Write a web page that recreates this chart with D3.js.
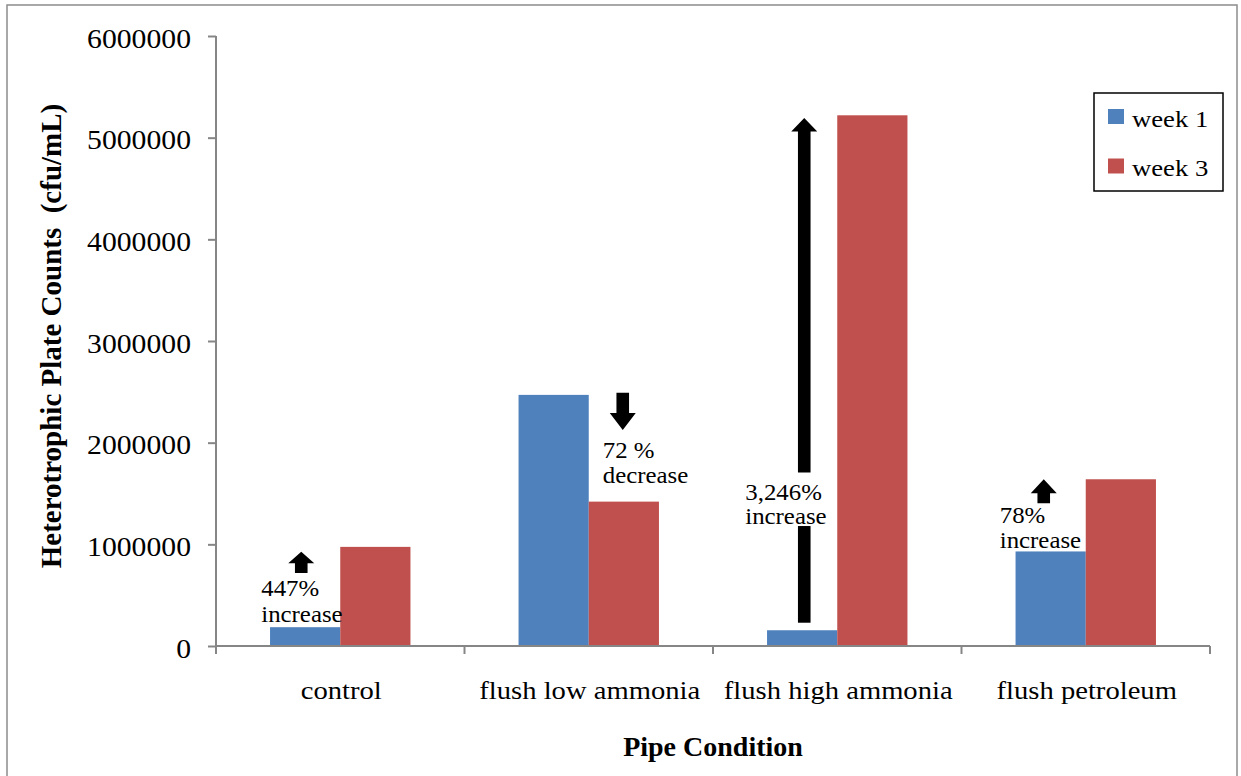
<!DOCTYPE html>
<html>
<head>
<meta charset="utf-8">
<script src="https://cdn.jsdelivr.net/npm/d3@7"></script>
<style>
  html, body { margin: 0; padding: 0; background: #ffffff; }
  svg { display: block; }
  text { font-family: "Liberation Serif", "Times New Roman", serif; fill: #000; }
</style>
</head>
<body>
<svg id="chart" width="1241" height="776"></svg>
<script>
// Pipe conditions and heterotrophic plate counts (cfu/mL)
const categories = ["control", "flush low ammonia", "flush high ammonia", "flush petroleum"];
const seriesNames = ["week 1", "week 3"];
const week1 = [185000, 2470000, 155000, 930000];
const week3 = [975000, 1420000, 5220000, 1640000];
const seriesColors = ["#4F81BD", "#C0504D"];
const yTicks = [0, 1000000, 2000000, 3000000, 4000000, 5000000, 6000000];

// Change annotations: arrow direction, tip/tail values, and label lines with baselines
const noteCategory = ["control", "flush low ammonia", "flush high ammonia", "flush petroleum"];
const noteDirection = ["up", "down", "up", "up"];
const noteArrowTip = [927500, 2125000, 5194000, 1640000];
const noteArrowTail = [718000, 2491000, 229000, 1404000];
const noteArrowGap = [null, null, [1180000, 1707000], null];
const noteLines = [["447%", "increase"], ["72 %", "decrease"], ["3,246%", "increase"], ["78%", "increase"]];
const noteBaseline1 = [492000, 1849000, 1436000, 1213000];
const noteBaseline2 = [236000, 1603000, 1200000, 961000];

const svg = d3.select("#chart");
const axisColor = "#868686";

// outer frame
svg.append("rect")
  .attr("x", 7).attr("y", 5).attr("width", 1230).attr("height", 790)
  .attr("fill", "none").attr("stroke", "#8c8c8c").attr("stroke-width", 1.5);

const plot = { left: 216, right: 1210, top: 36, bottom: 646 };

const x0 = d3.scaleBand().domain(categories).range([plot.left, plot.right]).padding(0);
const x1 = d3.scaleBand().domain(seriesNames)
  .range([x0.bandwidth() * 0.2175, x0.bandwidth() * 0.7825]).padding(0);
const y = d3.scaleLinear().domain([0, 6000000]).range([plot.bottom, plot.top]);

const rows = categories.map((c, i) => ({ cat: c, vals: [week1[i], week3[i]] }));

// bars
const groups = svg.append("g").selectAll("g").data(rows).join("g")
  .attr("transform", d => `translate(${x0(d.cat)},0)`);
groups.selectAll("rect")
  .data(d => d.vals.map((v, j) => ({ name: seriesNames[j], v, j })))
  .join("rect")
  .attr("x", d => x1(d.name))
  .attr("y", d => y(d.v))
  .attr("width", x1.bandwidth())
  .attr("height", d => y(0) - y(d.v))
  .attr("fill", d => seriesColors[d.j]);

// y axis
const yAxis = svg.append("g")
  .attr("transform", `translate(${plot.left},0)`)
  .call(d3.axisLeft(y).tickValues(yTicks).tickFormat(d3.format("d")).tickSize(8).tickPadding(17));
yAxis.select(".domain").attr("stroke", axisColor).attr("stroke-width", 2)
  .attr("d", `M0,${plot.top}V${plot.bottom + 7}`);
yAxis.selectAll(".tick line").attr("stroke", axisColor).attr("stroke-width", 2);
yAxis.selectAll(".tick text")
  .attr("class", "reg").attr("font-size", 27).attr("fill", "#000")
  .attr("font-family", "Liberation Serif").attr("dy", "0.37em").attr("y", 1);

// x axis line with boundary ticks
const xAxisG = svg.append("g");
xAxisG.append("line")
  .attr("x1", plot.left).attr("x2", plot.right)
  .attr("y1", plot.bottom).attr("y2", plot.bottom)
  .attr("stroke", axisColor).attr("stroke-width", 2);
const boundaries = categories.map(c => x0(c)).concat([x0(categories[categories.length - 1]) + x0.bandwidth()]);
xAxisG.selectAll(".bt").data(boundaries).join("line")
  .attr("x1", d => d).attr("x2", d => d)
  .attr("y1", plot.bottom).attr("y2", plot.bottom + 8)
  .attr("stroke", axisColor).attr("stroke-width", 2);
xAxisG.selectAll(".cl").data(categories).join("text")
  .attr("class", "reg")
  .attr("x", d => x0(d) + x0.bandwidth() / 2 + 1)
  .attr("y", 699)
  .attr("text-anchor", "middle")
  .attr("font-size", 26)
  .text(d => d);

// axis titles
svg.append("text")
  .attr("x", 713).attr("y", 756)
  .attr("text-anchor", "middle").attr("font-size", 28).attr("font-weight", "bold")
  .text("Pipe Condition");
svg.append("text")
  .attr("transform", "translate(61,336) rotate(-90)")
  .attr("text-anchor", "middle").attr("font-size", 29).attr("font-weight", "bold")
  .style("white-space", "pre")
  .text("Heterotrophic Plate Counts  (cfu/mL)");

// change arrows
const headW = 26, shaftW = 12.6;
const headLen = [11.5, 17, 13.6, 14];
const noteArrowDx = [-39, 34, -33, -42];
const noteTextDx = [-79, 14, -92, -86];
const arrows = svg.append("g");
noteCategory.forEach((c, i) => {
  const cx = x0(c) + x0.bandwidth() / 2 + noteArrowDx[i];
  const tip = y(noteArrowTip[i]);
  const tail = y(noteArrowTail[i]);
  const sgn = noteDirection[i] === "up" ? 1 : -1;
  const base = tip + sgn * headLen[i];
  const hw = headW / 2, sw = shaftW / 2;
  const p = d3.path();
  p.moveTo(cx, tip);
  p.lineTo(cx + hw, base);
  p.lineTo(cx + sw, base);
  let shaftEnd = tail;
  if (noteArrowGap[i]) shaftEnd = y(noteArrowGap[i][1]);
  p.lineTo(cx + sw, shaftEnd);
  p.lineTo(cx - sw, shaftEnd);
  p.lineTo(cx - sw, base);
  p.lineTo(cx - hw, base);
  p.closePath();
  arrows.append("path").attr("d", p.toString()).attr("fill", "#000");
  if (noteArrowGap[i]) {
    const g0 = y(noteArrowGap[i][0]);
    arrows.append("rect")
      .attr("x", cx - sw).attr("y", g0)
      .attr("width", shaftW).attr("height", tail - g0)
      .attr("fill", "#000");
  }
  const tx = x0(c) + x0.bandwidth() / 2 + noteTextDx[i];
  arrows.append("text").attr("class", "note").attr("x", tx).attr("y", y(noteBaseline1[i]))
    .attr("font-size", 23).text(noteLines[i][0]);
  arrows.append("text").attr("class", "note").attr("x", tx).attr("y", y(noteBaseline2[i]))
    .attr("font-size", 23).text(noteLines[i][1]);
});

// legend
const legend = svg.append("g");
legend.append("rect")
  .attr("x", 1094).attr("y", 93).attr("width", 129).attr("height", 98)
  .attr("fill", "#fff").attr("stroke", "#000").attr("stroke-width", 1.5);
seriesNames.forEach((n, i) => {
  const cy = 116.5 + i * 49.5;
  legend.append("rect")
    .attr("x", 1108).attr("y", cy - 7.5).attr("width", 16).attr("height", 15)
    .attr("fill", seriesColors[i]);
  legend.append("text").attr("class", "leg")
    .attr("x", 1132).attr("y", cy + 10)
    .attr("font-size", 23).text(n);
});

// widen regular-weight serif text slightly
function widen(sel, f) {
  sel.each(function () {
    const w = this.getComputedTextLength();
    d3.select(this).attr("textLength", w * f).attr("lengthAdjust", "spacingAndGlyphs");
  });
}
widen(svg.selectAll("text.reg"), 1.1);
widen(svg.selectAll("text.note"), 1.08);
widen(svg.selectAll("text.leg"), 1.16);
</script>
</body>
</html>
